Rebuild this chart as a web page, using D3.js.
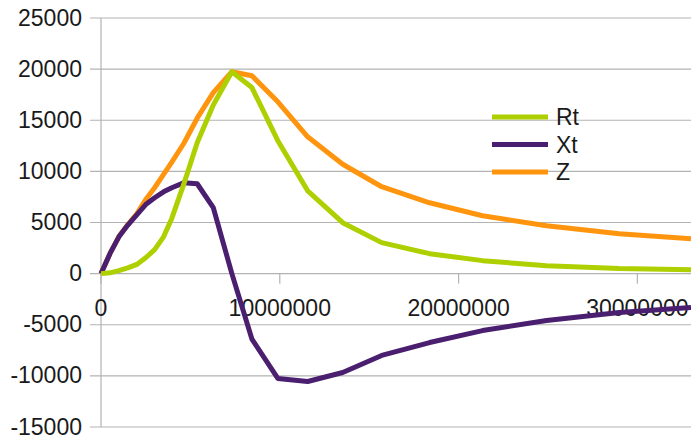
<!DOCTYPE html>
<html>
<head>
<meta charset="utf-8">
<script src="https://cdn.jsdelivr.net/npm/d3@7"></script>
<style>
  body { margin: 0; background: #fff; }
  text { font-family: "Liberation Sans", Arial, sans-serif; }
</style>
</head>
<body>
<svg id="chart"></svg>
<script>
const freq = [0, 500000, 1000000, 1500000, 2000000, 2500000, 3000000, 3500000, 3960000, 4620000, 5380000, 6280000, 7320000,
  8440000, 9890000, 11560000, 13520000, 15700000, 18380000, 21340000, 24920000, 28990000, 33000000];
const rt = [0, 80, 290, 560, 900, 1550, 2350, 3600, 5400, 8700, 12800, 16500, 19750,
  18200, 13000, 8100, 4980, 3030, 1950, 1270, 780, 490, 390];
const xt = [0, 1950, 3600, 4750, 5750, 6750, 7420, 8000, 8400, 8880, 8790, 6450, 0,
  -6400, -10250, -10550, -9670, -8000, -6740, -5570, -4590, -3810, -3320];
const z = [0, 1950, 3620, 4800, 5850, 7250, 8400, 9700, 10900, 12700, 15200, 17700, 19750,
  19350, 16800, 13380, 10700, 8500, 6930, 5660, 4690, 3900, 3420];
const yTicks = [-15000, -10000, -5000, 0, 5000, 10000, 15000, 20000, 25000];
const xTicks = [0, 10000000, 20000000, 30000000];

const series = [
  { name: 'Rt', values: rt, color: '#aecf00' },
  { name: 'Xt', values: xt, color: '#4b1f6f' },
  { name: 'Z', values: z, color: '#ff950e' }
];

const width = 691;
const height = 438;
const margin = { top: 18, right: 0, bottom: 11, left: 101 };

const x = d3.scaleLinear()
  .domain([0, 33000000])
  .range([margin.left, width - margin.right]);

const y = d3.scaleLinear()
  .domain([-15000, 25000])
  .range([height - margin.bottom, margin.top]);

const svg = d3.select('#chart')
  .attr('width', width)
  .attr('height', height);

// horizontal grid + y ticks
svg.append('g')
  .selectAll('line')
  .data(yTicks)
  .enter()
  .append('line')
  .attr('x1', margin.left - 11)
  .attr('x2', width)
  .attr('y1', d => y(d))
  .attr('y2', d => y(d))
  .attr('stroke', '#b3b3b3')
  .attr('stroke-width', 1.2);

// y axis line
svg.append('line')
  .attr('x1', margin.left)
  .attr('x2', margin.left)
  .attr('y1', y(25000))
  .attr('y2', y(-15000))
  .attr('stroke', '#b3b3b3')
  .attr('stroke-width', 1.2);

// x tick marks on the zero line
svg.append('g')
  .selectAll('line')
  .data(xTicks)
  .enter()
  .append('line')
  .attr('x1', d => x(d))
  .attr('x2', d => x(d))
  .attr('y1', y(0))
  .attr('y2', y(0) + 10)
  .attr('stroke', '#b3b3b3')
  .attr('stroke-width', 1.2);

svg.append('g')
  .selectAll('text')
  .data(yTicks)
  .enter()
  .append('text')
  .attr('x', 82)
  .attr('y', d => y(d))
  .attr('dy', '0.33em')
  .attr('text-anchor', 'end')
  .attr('font-size', 23)
  .attr('fill', '#1a1a1a')
  .text(d => d);

svg.append('g')
  .selectAll('text')
  .data(xTicks)
  .enter()
  .append('text')
  .attr('x', d => x(d))
  .attr('y', y(0) + 42)
  .attr('text-anchor', 'middle')
  .attr('font-size', 23)
  .attr('fill', '#1a1a1a')
  .text(d => d);

const line = d3.line()
  .x((d, i) => x(freq[i]))
  .y(d => y(d));

// Z under Xt under Rt
svg.append('g')
  .selectAll('path')
  .data(series.slice().reverse())
  .enter()
  .append('path')
  .attr('fill', 'none')
  .attr('stroke', d => d.color)
  .attr('stroke-width', 5)
  .attr('stroke-linejoin', 'round')
  .attr('d', d => line(d.values));

const legend = svg.append('g')
  .selectAll('g')
  .data(series)
  .enter()
  .append('g')
  .attr('transform', (d, i) => `translate(492, ${117 + i * 27.5})`);

legend.append('line')
  .attr('x1', 0)
  .attr('x2', 56)
  .attr('stroke', d => d.color)
  .attr('stroke-width', 5);

legend.append('text')
  .attr('x', 64)
  .attr('dy', '0.35em')
  .attr('font-size', 23)
  .attr('fill', '#1a1a1a')
  .text(d => d.name);
</script>
</body>
</html>
